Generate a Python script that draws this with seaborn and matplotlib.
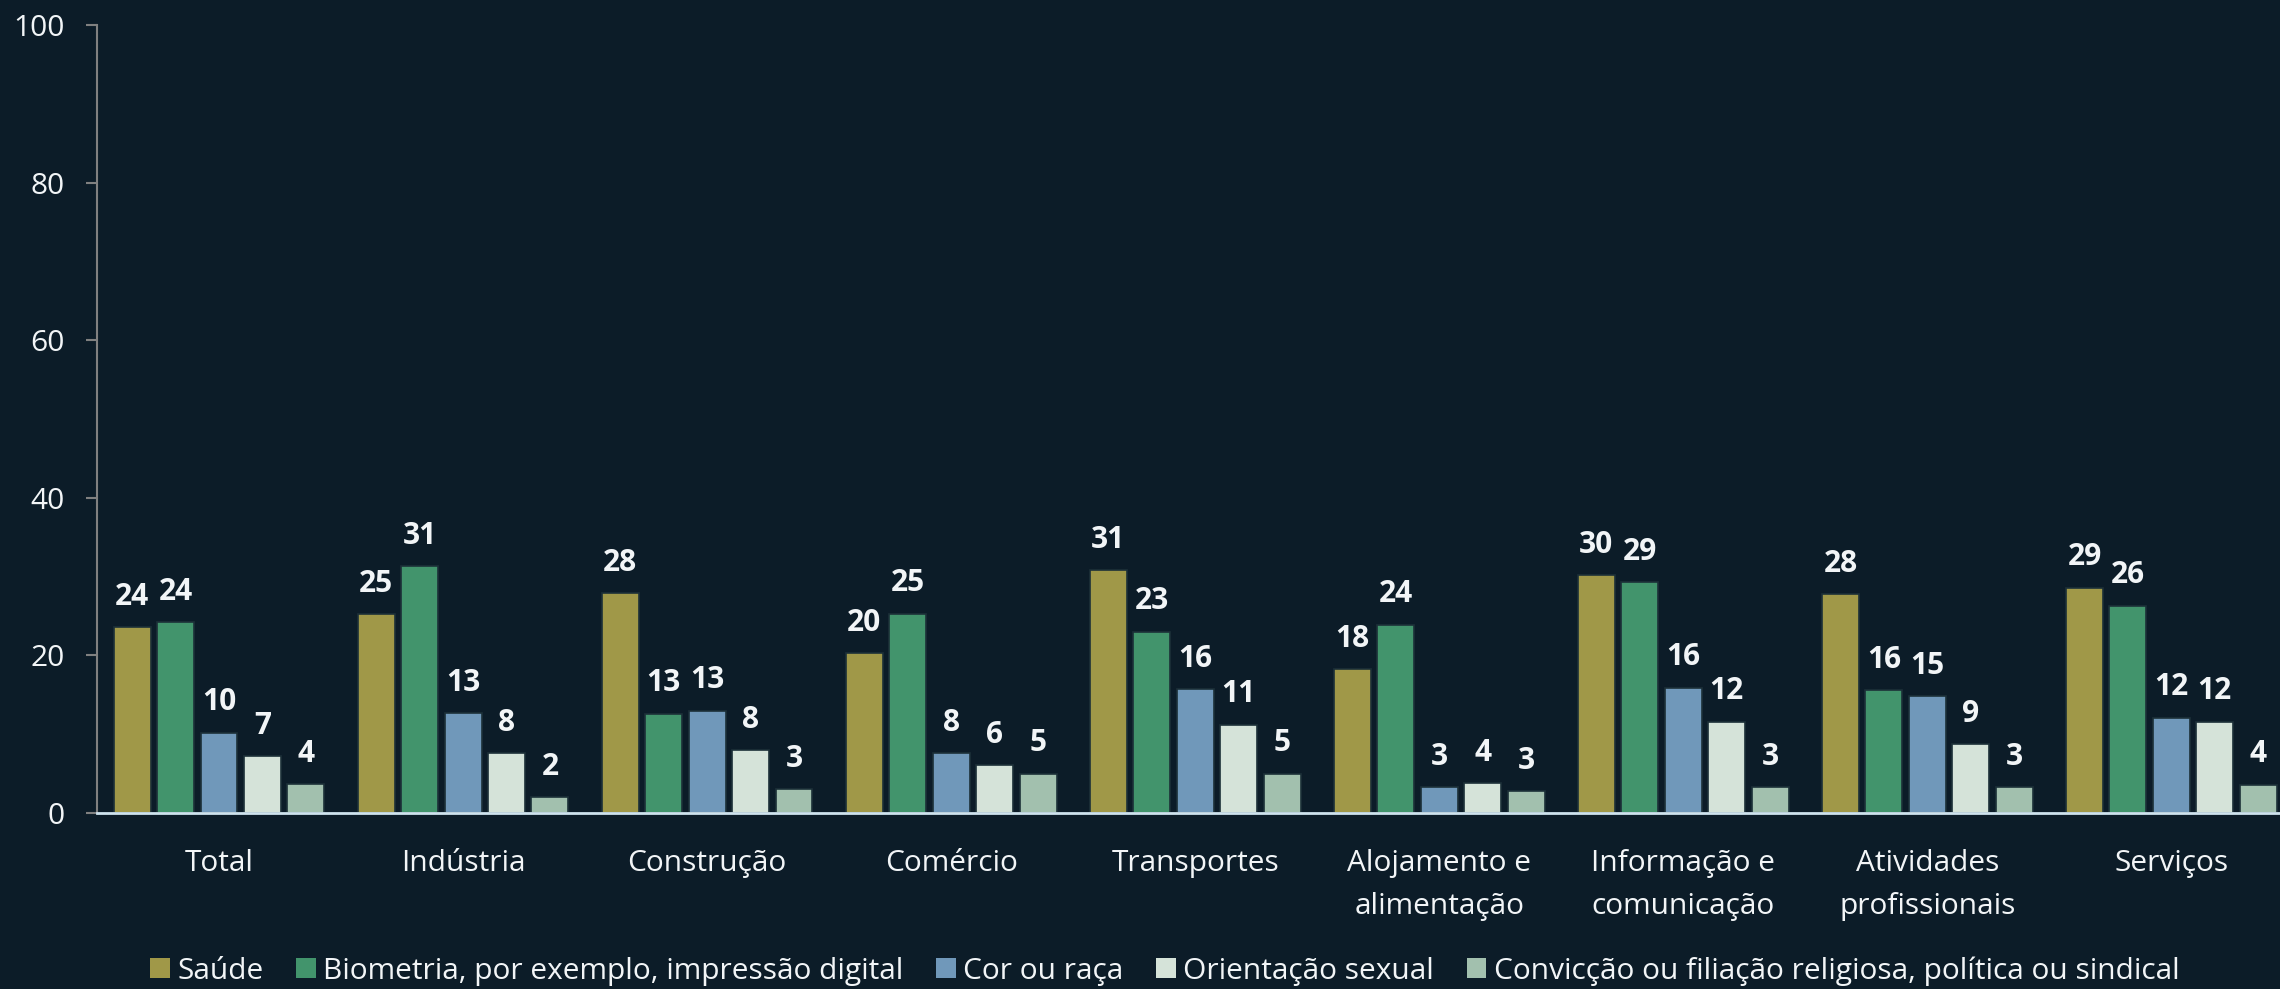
import matplotlib
matplotlib.use("Agg")
import matplotlib.pyplot as plt
from matplotlib.patches import Patch
import seaborn as sns
import pandas as pd

setores = ["Total", "Indústria", "Construção", "Comércio", "Transportes",
           "Alojamento e\nalimentação", "Informação e\ncomunicação",
           "Atividades\nprofissionais", "Serviços"]
series = ["Saúde", "Biometria, por exemplo, impressão digital", "Cor ou raça",
          "Orientação sexual", "Convicção ou filiação religiosa, política ou sindical"]

saude = [23.6, 25.2, 27.9, 20.3, 30.8, 18.3, 30.2, 27.8, 28.6]
biometria = [24.2, 31.3, 12.6, 25.3, 23.0, 23.9, 29.3, 15.6, 26.3]
cor = [10.2, 12.7, 13.0, 7.6, 15.7, 3.3, 15.9, 14.8, 12.1]
orientacao = [7.2, 7.6, 8.0, 6.1, 11.2, 3.8, 11.6, 8.7, 11.6]
conviccao = [3.7, 2.0, 3.0, 5.0, 5.0, 2.8, 3.3, 3.3, 3.6]

colors = ["#A09848", "#42946C", "#7098BA", "#D5E3D9", "#A2C0AE"]
BG = "#0C1C28"
TXT = "#F2F5F7"
FS = 21.5

values = [saude, biometria, cor, orientacao, conviccao]
df = pd.DataFrame({
    "setor": [s for _ in series for s in setores],
    "tipo": [t for t in series for _ in setores],
    "valor": [v for vals in values for v in vals],
})

sns.set_style("dark")
plt.rcParams["font.family"] = ["Open Sans", "DejaVu Sans"]

fig = plt.figure(figsize=(22.8, 9.89), dpi=100, facecolor=BG)
ax = fig.add_axes([97 / 2280, 1 - 813 / 989, (2280 - 97) / 2280, (813 - 25) / 989])
ax.set_facecolor(BG)

sns.barplot(data=df, x="setor", y="valor", hue="tipo", order=setores,
            hue_order=series, palette=colors, width=0.89, gap=0.15,
            saturation=1, ax=ax, legend=False, edgecolor="#1c3038", linewidth=1.2)

for cont in ax.containers:
    ax.bar_label(cont, fmt="%.0f", padding=11, color=TXT, fontsize=FS,
                 fontweight="bold")

ax.set_xlim(-0.5, 8.445)
ax.set_ylim(0, 100)
ax.set_yticks([0, 20, 40, 60, 80, 100])
ax.set_xlabel("")
ax.set_ylabel("")
ax.grid(False)

for sp in ["top", "right"]:
    ax.spines[sp].set_visible(False)
ax.spines["left"].set_color("#808080")
ax.spines["left"].set_linewidth(1.5)
ax.spines["bottom"].set_color("#CFE3EE")
ax.spines["bottom"].set_linewidth(2)

ax.tick_params(axis="y", colors="#808080", length=8, width=1.5, pad=15,
               labelcolor=TXT, labelsize=FS, left=True)
ax.tick_params(axis="x", length=0, pad=26, labelcolor=TXT, labelsize=FS)
for lab in ax.get_xticklabels():
    lab.set_linespacing(1.65)

handles = [Patch(facecolor=c, edgecolor="none") for c in colors]
fig.legend(handles, series, loc="center", bbox_to_anchor=(1165 / 2280, 1 - 971 / 989),
           ncol=5, frameon=False, fontsize=FS, labelcolor=TXT,
           handlelength=0.65, handleheight=0.65, handletextpad=0.25,
           columnspacing=1.1)

fig.savefig("out.png", dpi=100, facecolor=BG)
